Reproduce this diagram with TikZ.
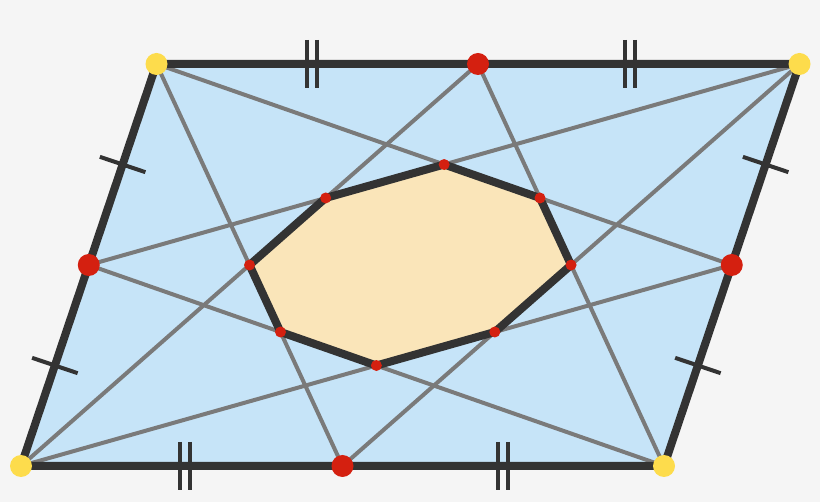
\documentclass[tikz,border=0pt]{standalone}
\usetikzlibrary{calc}
\definecolor{bg}{HTML}{F5F5F5}
\definecolor{skyfill}{HTML}{C6E4F8}
\definecolor{octfill}{HTML}{FAE5B9}
\definecolor{darkline}{HTML}{333333}
\definecolor{greyline}{HTML}{7A7A7A}
\definecolor{vyellow}{HTML}{FDDC4C}
\definecolor{mred}{HTML}{D42010}
\tikzset{
  cevian/.style={draw=greyline, line width=4pt},
  edge/.style={draw=darkline, line width=8pt, line join=miter},
  tickmark/.style={draw=darkline, line width=4pt},
  vdot/.style={circle, fill=vyellow, inner sep=0pt, minimum size=22pt},
  mdot/.style={circle, fill=mred, inner sep=0pt, minimum size=22pt},
  odot/.style={circle, fill=mred, inner sep=0pt, minimum size=11pt},
}
\begin{document}
\begin{tikzpicture}[x=1pt, y=-1pt]
\path[fill=bg] (0,0) rectangle (820,502);
\useasboundingbox (0,0) rectangle (820,502);
% vertices
\coordinate (A) at (21,466);
\coordinate (B) at (664,466);
\coordinate (C) at (799.5,64);
\coordinate (D) at (156.5,64);
% midpoints
\coordinate (mAB) at ($(A)!0.5!(B)$);
\coordinate (mBC) at ($(B)!0.5!(C)$);
\coordinate (mCD) at ($(C)!0.5!(D)$);
\coordinate (mDA) at ($(D)!0.5!(A)$);
% octagon vertices
\coordinate (o1) at (intersection of D--mBC and C--mDA);
\coordinate (o2) at (intersection of D--mBC and B--mCD);
\coordinate (o3) at (intersection of B--mCD and C--mAB);
\coordinate (o4) at (intersection of C--mAB and A--mBC);
\coordinate (o5) at (intersection of A--mBC and B--mDA);
\coordinate (o6) at (intersection of B--mDA and D--mAB);
\coordinate (o7) at (intersection of D--mAB and A--mCD);
\coordinate (o8) at (intersection of A--mCD and C--mDA);
% parallelogram fill
\fill[skyfill] (A) -- (B) -- (C) -- (D) -- cycle;
% cevians
\draw[cevian] (A) -- (mBC);
\draw[cevian] (A) -- (mCD);
\draw[cevian] (B) -- (mCD);
\draw[cevian] (B) -- (mDA);
\draw[cevian] (C) -- (mDA);
\draw[cevian] (C) -- (mAB);
\draw[cevian] (D) -- (mAB);
\draw[cevian] (D) -- (mBC);
% octagon
\path[edge, fill=octfill] (o1) -- (o2) -- (o3) -- (o4) -- (o5) -- (o6) -- (o7) -- (o8) -- cycle;
% border
\draw[edge] (A) -- (B) -- (C) -- (D) -- cycle;
% single ticks on slanted sides
\coordinate (tl1) at ($(A)!0.25!(D)$);
\coordinate (tl2) at ($(A)!0.75!(D)$);
\coordinate (tr1) at ($(B)!0.25!(C)$);
\coordinate (tr2) at ($(B)!0.75!(C)$);
\foreach \t/\e in {tl1/D, tl2/D, tr1/C, tr2/C}{
  \draw[tickmark] ($(\t)!24pt!90:(\e)$) -- ($(\t)!24pt!-90:(\e)$);
}
% double ticks on horizontal sides
\coordinate (tt1) at (312,64);
\coordinate (tt2) at (630,64);
\coordinate (tb1) at (185,466);
\coordinate (tb2) at (503,466);
\foreach \t in {tt1, tt2, tb1, tb2}{
  \draw[tickmark] ($(\t)+(-5,-24)$) -- ($(\t)+(-5,24)$);
  \draw[tickmark] ($(\t)+(5,-24)$) -- ($(\t)+(5,24)$);
}
% dots
\node[vdot] (dA) at (A) {};
\node[vdot] (dB) at (B) {};
\node[vdot] (dC) at (C) {};
\node[vdot] (dD) at (D) {};
\node[mdot] (dmAB) at (mAB) {};
\node[mdot] (dmBC) at (mBC) {};
\node[mdot] (dmCD) at (mCD) {};
\node[mdot] (dmDA) at (mDA) {};
\foreach \o in {o1,o2,o3,o4,o5,o6,o7,o8}{
  \node[odot] (d\o) at (\o) {};
}
\end{tikzpicture}
\end{document}
